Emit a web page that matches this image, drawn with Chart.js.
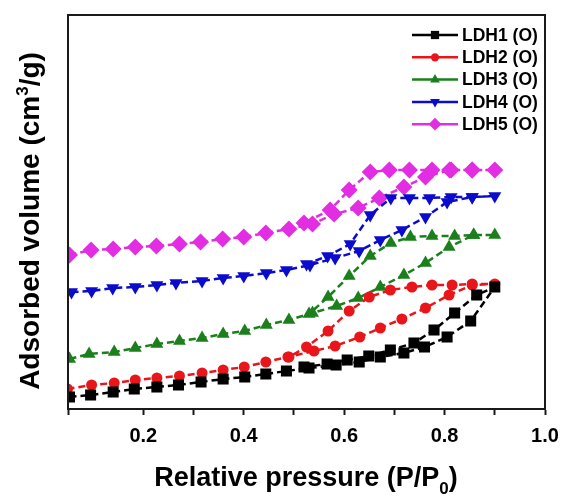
<!DOCTYPE html>
<html>
<head>
<meta charset="utf-8">
<script src="https://cdn.jsdelivr.net/npm/chart.js@4.4.0/dist/chart.umd.min.js"></script>
<style>
  html, body { margin: 0; padding: 0; background: #fff; }
  #wrap { width: 561px; height: 496px; }
</style>
</head>
<body>
<div id="wrap"><canvas id="isotherm"></canvas></div>
<script>
// Isotherm data (y in arbitrary units, axis has no labels)
// each sample: adsorption branch going up, then desorption coming back down
const ldh1AdsP = [0.053, 0.095, 0.14, 0.182, 0.227, 0.27, 0.315, 0.359, 0.402, 0.444, 0.485, 0.53, 0.584, 0.63, 0.672, 0.719, 0.76, 0.805, 0.852, 0.9];
const ldh1AdsV = [12, 14, 17, 20, 22, 24, 27, 30, 32, 35, 38, 41, 44, 47, 52, 56, 62, 72, 88, 122];
const ldh1DesP = [0.864, 0.82, 0.779, 0.739, 0.692, 0.649, 0.606, 0.566, 0.52];
const ldh1DesV = [114, 96, 79, 66, 59, 53, 49, 45, 42];

const ldh2AdsP = [0.049, 0.097, 0.142, 0.184, 0.227, 0.272, 0.317, 0.359, 0.401, 0.444, 0.488, 0.54, 0.582, 0.631, 0.672, 0.715, 0.762, 0.809, 0.855, 0.9];
const ldh2AdsV = [20, 24, 26, 29, 31, 33, 36, 39, 42, 47, 52, 58, 63, 72, 81, 90, 101, 114, 124, 125];
const ldh2DesP = [0.855, 0.815, 0.775, 0.735, 0.692, 0.65, 0.61, 0.568, 0.525, 0.49];
const ldh2DesV = [125, 124, 124, 122, 119, 112, 98, 78, 62, 52];

const ldh3AdsP = [0.053, 0.092, 0.142, 0.184, 0.227, 0.272, 0.317, 0.359, 0.402, 0.445, 0.49, 0.537, 0.585, 0.628, 0.672, 0.719, 0.762, 0.809, 0.858, 0.9];
const ldh3AdsV = [50, 55, 57, 61, 65, 68, 71, 75, 78, 84, 89, 96, 103, 111, 122, 134, 146, 162, 174, 174];
const ldh3DesP = [0.858, 0.82, 0.775, 0.732, 0.693, 0.652, 0.61, 0.568, 0.53];
const ldh3DesV = [174, 173, 173, 172, 166, 153, 133, 112, 95];

const ldh4AdsP = [0.057, 0.097, 0.139, 0.184, 0.227, 0.265, 0.317, 0.359, 0.4, 0.445, 0.485, 0.532, 0.582, 0.63, 0.672, 0.715, 0.762, 0.805, 0.855, 0.9];
const ldh4AdsV = [117, 118, 121, 122, 124, 126, 128, 131, 133, 136, 139, 144, 151, 158, 169, 179, 192, 207, 212, 213];
const ldh4DesP = [0.855, 0.813, 0.77, 0.73, 0.693, 0.652, 0.612, 0.567, 0.525];
const ldh4DesV = [212, 212, 211, 211, 211, 194, 165, 153, 145];

const ldh5AdsP = [0.053, 0.096, 0.14, 0.184, 0.226, 0.272, 0.314, 0.358, 0.4, 0.444, 0.49, 0.537, 0.58, 0.628, 0.67, 0.719, 0.762, 0.81, 0.855, 0.9];
const ldh5AdsV = [154, 159, 160, 162, 163, 165, 167, 170, 172, 176, 180, 185, 195, 201, 211, 222, 232, 239, 239, 239];
const ldh5DesP = [0.855, 0.813, 0.775, 0.73, 0.69, 0.652, 0.61, 0.572, 0.52];
const ldh5DesV = [239, 239, 239, 239, 239, 237, 219, 199, 186];

const seriesNames = ['LDH1 (O)', 'LDH2 (O)', 'LDH3 (O)', 'LDH4 (O)', 'LDH5 (O)'];
const xTickLabels = [0.2, 0.4, 0.6, 0.8, 1.0];

const FONT = '"Liberation Sans", Arial, Helvetica, sans-serif';
Chart.defaults.font.family = FONT;
Chart.defaults.color = '#000';

function toPoints(ap, av, dp, dv) {
    const pts = ap.map((p, i) => ({ x: p, y: av[i] }));
    return pts.concat(dp.map((p, i) => ({ x: p, y: dv[i] })));
}

function makeSet(label, color, style, radius, rotation, data) {
    return {
        label: label,
        data: data,
        showLine: true,
        borderColor: color,
        backgroundColor: color,
        pointBackgroundColor: color,
        pointBorderColor: color,
        pointBorderWidth: 0,
        pointStyle: style,
        pointRadius: radius,
        pointRotation: rotation,
        borderWidth: 2.5,
        borderDash: [7, 4],
        tension: 0
    };
}

// legend drawn as line + marker like the original plot
const lineLegend = {
    id: 'lineLegend',
    afterDraw(chart) {
        const ctx = chart.ctx;
        const a = chart.chartArea;
        chart.data.datasets.forEach((ds, i) => {
            const y = a.top + 20 + i * 22.3;
            const x0 = a.right - 133;
            ctx.save();
            ctx.strokeStyle = ds.borderColor;
            ctx.lineWidth = 2.5;
            ctx.beginPath();
            ctx.moveTo(x0, y);
            ctx.lineTo(x0 + 46, y);
            ctx.stroke();
            ctx.fillStyle = ds.pointBackgroundColor;
            Chart.helpers.drawPoint(ctx, {
                pointStyle: ds.pointStyle,
                rotation: ds.pointRotation || 0,
                radius: ds.pointRadius * 0.75,
                borderWidth: 0
            }, x0 + 23, y);
            ctx.fillStyle = '#000';
            ctx.font = 'bold 17.5px ' + FONT;
            ctx.textBaseline = 'middle';
            ctx.textAlign = 'left';
            ctx.fillText(ds.label, x0 + 50, y + 1);
            ctx.restore();
        });
    }
};

function drawParts(ctx, parts, cx, cy) {
    let total = 0;
    parts.forEach(p => { ctx.font = 'bold ' + p.size + 'px ' + FONT; p.w = ctx.measureText(p.t).width; total += p.w; });
    let x = cx - total / 2;
    parts.forEach(p => {
        ctx.font = 'bold ' + p.size + 'px ' + FONT;
        ctx.fillText(p.t, x, cy + (p.dy || 0));
        x += p.w;
    });
}

// frame + axis titles with sub/superscripts
const frameAndTitles = {
    id: 'frameAndTitles',
    afterDraw(chart) {
        const ctx = chart.ctx;
        const a = chart.chartArea;
        ctx.save();
        ctx.strokeStyle = '#1a1a1a';
        ctx.lineWidth = 2;
        ctx.strokeRect(a.left, a.top, a.right - a.left, a.bottom - a.top);
        ctx.fillStyle = '#000';
        ctx.textBaseline = 'alphabetic';
        ctx.textAlign = 'left';
        drawParts(ctx, [
            { t: 'Relative pressure (P/P', size: 27 },
            { t: '0', size: 17, dy: 8 },
            { t: ')', size: 27 }
        ], 306, 486);
        ctx.translate(39, 221);
        ctx.rotate(-Math.PI / 2);
        drawParts(ctx, [
            { t: 'Adsorbed volume (cm', size: 28 },
            { t: '3', size: 17, dy: -11 },
            { t: '/g)', size: 28 }
        ], 0, 0);
        ctx.restore();
    }
};

const ctx1 = document.getElementById('isotherm').getContext('2d');
const isothermChart = new Chart(ctx1, {
    type: 'scatter',
    data: {
        datasets: [
            makeSet(seriesNames[0], '#000000', 'rect', 7.8, 0, toPoints(ldh1AdsP, ldh1AdsV, ldh1DesP, ldh1DesV)),
            makeSet(seriesNames[1], '#e8161b', 'circle', 5.5, 0, toPoints(ldh2AdsP, ldh2AdsV, ldh2DesP, ldh2DesV)),
            makeSet(seriesNames[2], '#1b7f1b', 'triangle', 7.5, 0, toPoints(ldh3AdsP, ldh3AdsV, ldh3DesP, ldh3DesV)),
            makeSet(seriesNames[3], '#0b0bcc', 'triangle', 7.5, 180, toPoints(ldh4AdsP, ldh4AdsV, ldh4DesP, ldh4DesV)),
            makeSet(seriesNames[4], '#e22de2', 'rectRot', 8.5, 0, toPoints(ldh5AdsP, ldh5AdsV, ldh5DesP, ldh5DesV))
        ]
    },
    options: {
        responsive: true,
        maintainAspectRatio: false,
        animation: false,
        layout: { padding: { top: 15, right: 16, left: 0, bottom: 0 } },
        scales: {
            x: {
                type: 'linear',
                min: 0.05,
                max: 1.0,
                afterFit(scale) {
                    scale.height = 87;
                    // let the "1.0" label hang past the frame instead of shrinking the plot
                    scale.paddingRight = 0;
                    scale.paddingLeft = 0;
                },
                border: { color: '#1a1a1a', width: 2 },
                grid: { drawOnChartArea: false, tickLength: 6, tickColor: '#1a1a1a', tickWidth: 2 },
                ticks: {
                    stepSize: 0.1,
                    padding: 9,
                    font: { size: 20, weight: 'bold' },
                    color: '#000',
                    callback: (v) => {
                        const hit = xTickLabels.find(t => Math.abs(t - v) < 1e-6);
                        return hit !== undefined ? hit.toFixed(1) : '';
                    }
                }
            },
            y: {
                min: 0,
                max: 394,
                afterFit(scale) { scale.width = 68; },
                border: { color: '#1a1a1a', width: 2 },
                grid: { display: false },
                ticks: { display: false }
            }
        },
        plugins: {
            legend: { display: false },
            tooltip: { enabled: false }
        }
    },
    plugins: [lineLegend, frameAndTitles]
});
</script>
</body>
</html>
